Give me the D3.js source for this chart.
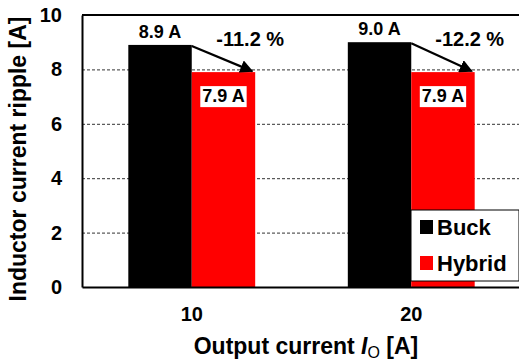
<!DOCTYPE html>
<html>
<head>
<meta charset="utf-8">
<script src="https://cdn.jsdelivr.net/npm/d3@7"></script>
<style>
    html, body { margin: 0; padding: 0; background: #fff; }
    svg { display: block; font-family: "Liberation Sans", Arial, sans-serif; font-weight: bold; }
</style>
</head>
<body>
<div id="chart"></div>
<script>
const categories = ["10", "20"];
const seriesNames = ["Buck", "Hybrid"];
const buckValues = [8.9, 9.0];
const hybridValues = [7.9, 7.9];
const reductionLabels = ["-11.2 %", "-12.2 %"];
const yTicks = [0, 2, 4, 6, 8, 10];
const seriesColors = ["#000000", "#ff0000"];

document.addEventListener("DOMContentLoaded", function () {
    const width = 519;
    const height = 362;
    const margin = { top: 15, right: -2, bottom: 75, left: 82 };
    const chartWidth = width - margin.left - margin.right;
    const chartHeight = height - margin.top - margin.bottom;

    const svg = d3.select("#chart").append("svg")
        .attr("width", width)
        .attr("height", height);

    const x0 = d3.scaleBand()
        .domain(categories)
        .range([0, chartWidth])
        .padding(0);

    const x1 = d3.scaleBand()
        .domain(seriesNames)
        .range([0, x0.bandwidth()])
        .paddingInner(0)
        .paddingOuter(0.73);

    const y = d3.scaleLinear()
        .domain([0, 10])
        .range([chartHeight, 0]);

    const chartArea = svg.append("g")
        .attr("transform", `translate(${margin.left}, ${margin.top})`);

    // gridlines
    chartArea.append("g")
        .selectAll("line")
        .data(yTicks.filter(d => d > 0 && d < 10))
        .enter().append("line")
        .attr("x1", 0)
        .attr("x2", chartWidth)
        .attr("y1", d => y(d) + 0.5)
        .attr("y2", d => y(d) + 0.5)
        .attr("stroke", "#333")
        .attr("stroke-width", 1)
        .attr("stroke-dasharray", "3,2");

    const rows = categories.map((c, i) => ({ cat: c, values: [buckValues[i], hybridValues[i]] }));

    const groups = chartArea.append("g")
        .selectAll("g")
        .data(rows)
        .enter().append("g")
        .attr("transform", d => `translate(${x0(d.cat)}, 0)`);

    groups.selectAll("rect")
        .data(d => d.values.map((v, i) => ({ name: seriesNames[i], value: v })))
        .enter().append("rect")
        .attr("x", d => x1(d.name))
        .attr("y", d => y(d.value))
        .attr("width", x1.bandwidth())
        .attr("height", d => chartHeight - y(d.value))
        .attr("fill", (d, i) => seriesColors[i]);

    // top border
    chartArea.append("line")
        .attr("x1", 0).attr("x2", chartWidth + 5)
        .attr("y1", 0).attr("y2", 0)
        .attr("stroke", "#000").attr("stroke-width", 2);

    // axes
    const yAxis = chartArea.append("g")
        .call(d3.axisLeft(y).tickValues(yTicks).tickSize(0).tickPadding(20));
    yAxis.select(".domain").attr("stroke", "#000").attr("stroke-width", 2);
    yAxis.selectAll("text")
        .style("font-size", "20px")
        .style("font-family", "Liberation Sans, Arial, sans-serif")
        .style("font-weight", "bold")
        .attr("fill", "#000");

    const xAxis = chartArea.append("g")
        .attr("transform", `translate(0, ${chartHeight})`)
        .call(d3.axisBottom(x0).tickSize(0).tickPadding(20));
    xAxis.select(".domain").attr("stroke", "#000").attr("stroke-width", 2);
    xAxis.selectAll("text")
        .style("font-size", "20px")
        .style("font-family", "Liberation Sans, Arial, sans-serif")
        .style("font-weight", "bold")
        .attr("fill", "#000");

    // arrow marker
    svg.append("defs").append("marker")
        .attr("id", "arrowhead")
        .attr("viewBox", "0 0 10 10")
        .attr("refX", 9)
        .attr("refY", 5)
        .attr("markerWidth", 6)
        .attr("markerHeight", 6)
        .attr("markerUnits", "strokeWidth")
        .attr("orient", "auto")
        .append("path")
        .attr("d", "M0,0 L10,5 L0,10 z")
        .attr("fill", "#000");

    rows.forEach((row, i) => {
        const g = chartArea.append("g").attr("transform", `translate(${x0(row.cat)}, 0)`);
        const bx = x1("Buck");
        const hx = x1("Hybrid");
        const bw = x1.bandwidth();

        // buck value label
        g.append("text")
            .attr("x", bx + bw / 2)
            .attr("y", y(buckValues[i]) - 7)
            .attr("text-anchor", "middle")
            .style("font-size", "18px")
            .text(buckValues[i].toFixed(1) + " A");

        // arrow
        g.append("line")
            .attr("x1", hx)
            .attr("y1", y(buckValues[i]) + 1)
            .attr("x2", hx + bw - 3)
            .attr("y2", y(hybridValues[i]) - 1)
            .attr("stroke", "#000")
            .attr("stroke-width", 2.2)
            .attr("marker-end", "url(#arrowhead)");

        // percent label
        g.append("text")
            .attr("x", hx + bw - 5)
            .attr("y", 31)
            .attr("text-anchor", "middle")
            .style("font-size", "20px")
            .text(reductionLabels[i]);

        // hybrid label in white box
        const lbl = g.append("g");
        const t = lbl.append("text")
            .attr("x", hx + bw / 2)
            .attr("y", y(hybridValues[i]) + 30)
            .attr("text-anchor", "middle")
            .style("font-size", "18px")
            .text(hybridValues[i].toFixed(1) + " A");
        const bb = t.node().getBBox();
        lbl.insert("rect", "text")
            .attr("x", bb.x - 2)
            .attr("y", bb.y)
            .attr("width", bb.width + 4)
            .attr("height", bb.height + 1)
            .attr("fill", "#fff");
    });

    // legend
    const legend = svg.append("g").attr("transform", "translate(411, 210)");
    legend.append("rect")
        .attr("x", 0).attr("y", 0)
        .attr("width", 108).attr("height", 71)
        .attr("fill", "#fff")
        .attr("stroke", "#000")
        .attr("stroke-width", 1);
    const legendItems = legend.selectAll("g.item")
        .data(seriesNames)
        .enter().append("g")
        .attr("class", "item")
        .attr("transform", (d, i) => `translate(9, ${10 + i * 36})`);
    legendItems.append("rect")
        .attr("width", 13)
        .attr("height", 14)
        .attr("fill", (d, i) => seriesColors[i]);
    legendItems.append("text")
        .attr("x", 17)
        .attr("y", 7)
        .attr("dy", "0.35em")
        .style("font-size", "22px")
        .text(d => d);

    // y title
    svg.append("text")
        .attr("transform", `translate(26, 159) rotate(-90)`)
        .attr("text-anchor", "middle")
        .style("font-size", "23px")
        .text("Inductor current ripple [A]");

    // x title
    const xt = svg.append("text")
        .attr("x", 306)
        .attr("y", 354)
        .attr("text-anchor", "middle")
        .style("font-size", "23px");
    xt.append("tspan").text("Output current ");
    xt.append("tspan").style("font-style", "italic").text("I");
    xt.append("tspan").attr("dy", 4).style("font-size", "16px").style("font-weight", "normal").text("O");
    xt.append("tspan").attr("dy", -4).text(" [A]");
});
</script>
</body>
</html>
